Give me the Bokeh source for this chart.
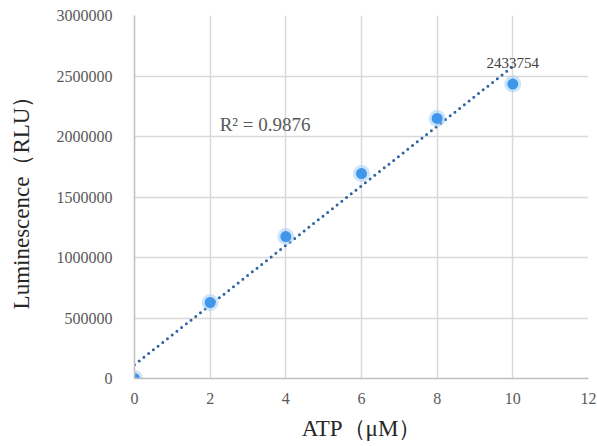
import numpy as np
from bokeh.plotting import figure
from bokeh.models import ColumnDataSource, Label, FixedTicker
from bokeh.embed import file_html
from bokeh.resources import INLINE
from bokeh.core.properties import value

atp = [0, 2, 4, 6, 8, 10]
lum = [0, 628000, 1173000, 1694000, 2149000, 2433754]
x_ticks = [0, 2, 4, 6, 8, 10, 12]
y_ticks = [0, 500000, 1000000, 1500000, 2000000, 2500000, 3000000]
r2_text = "R\u00b2 = 0.9876"
last_label = "2433754"

slope, intercept = np.polyfit(atp, lum, 1)
trend_x = [atp[0], atp[-1]]
trend_y = [intercept + slope * v for v in trend_x]

p = figure(width=597, height=446, output_backend="svg", toolbar_location=None,
           x_range=(0, 12), y_range=(0, 3000000),
           min_border_left=134, min_border_right=9, min_border_top=15, min_border_bottom=68)
p.outline_line_color = None
p.background_fill_color = "white"

for ax in (p.xaxis[0], p.yaxis[0]):
    ax.major_tick_line_color = None
    ax.minor_tick_line_color = None
    ax.axis_line_color = "#bfbfbf"
    ax.axis_line_width = 1.5
    ax.major_label_text_font = "Liberation Serif"
    ax.major_label_text_font_size = "16px"
    ax.major_label_text_color = "#595959"
    ax.axis_label_text_font = "Liberation Serif"
    ax.axis_label_text_font_size = "23px"
    ax.axis_label_text_font_style = "normal"
    ax.axis_label_text_color = "#262626"

p.xaxis.ticker = FixedTicker(ticks=x_ticks)
p.yaxis.ticker = FixedTicker(ticks=y_ticks)
p.yaxis.formatter.use_scientific = False
p.xaxis.major_label_standoff = 8
p.yaxis.major_label_standoff = 16
p.xaxis.axis_label = "ATP\uff08\u03bcM\uff09"
p.yaxis.axis_label = "Luminescence\uff08RLU\uff09"
p.xaxis.axis_label_standoff = 9
p.yaxis.axis_label_standoff = 20

p.xgrid.ticker = FixedTicker(ticks=x_ticks)
p.ygrid.ticker = FixedTicker(ticks=y_ticks)
p.grid.grid_line_color = "#d9d9d9"
p.grid.grid_line_width = 1.5

p.line(trend_x, trend_y, line_color="#2e64a0", line_width=3,
       line_dash="0 6", line_cap="round")

src = ColumnDataSource(dict(x=atp, y=lum))
p.scatter("x", "y", source=src, size=17, fill_color="#9cc9f5", fill_alpha=0.5, line_color=None)
p.scatter("x", "y", source=src, size=11, fill_color="#3f97ec", line_color=None)

p.add_layout(Label(x=2.25, y=2100000, text=r2_text, text_font="Liberation Serif",
                   text_font_size="19px", text_color="#595959", text_baseline="middle"))
p.add_layout(Label(x=atp[-1], y=lum[-1], y_offset=21, text=last_label,
                   text_font="Liberation Serif", text_font_size="15px",
                   text_color="#404040", text_align="center", text_baseline="middle"))

open("out.html", "w").write(file_html(p, INLINE))
